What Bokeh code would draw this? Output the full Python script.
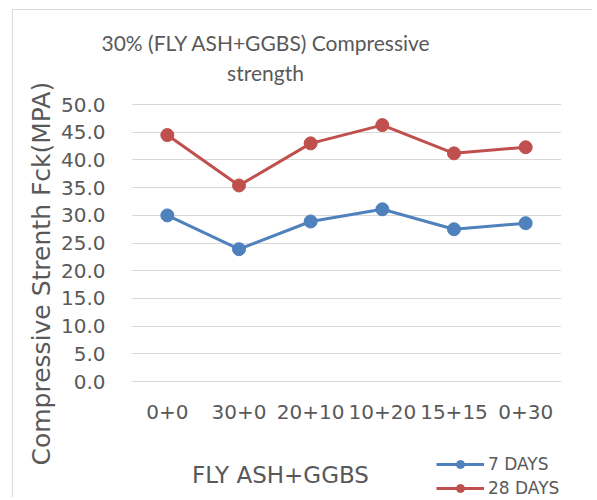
from bokeh.plotting import figure
from bokeh.models import (Legend, LegendItem, FixedTicker, NumeralTickFormatter,
                          Range1d, FactorRange, Title, Label)
from bokeh.embed import file_html
from bokeh.resources import INLINE

categories = ["0+0", "30+0", "20+10", "10+20", "15+15", "0+30"]
days7 = [30.0, 23.9, 28.9, 31.1, 27.5, 28.6]
days28 = [44.5, 35.4, 43.0, 46.3, 41.2, 42.3]
y_ticks = [0, 5, 10, 15, 20, 25, 30, 35, 40, 45, 50]

TXT = "#595959"
GRID = "#d9d9d9"
BLUE = "#4f81bd"
RED = "#c0504d"
FONT = "DejaVu Sans"

# frame reaches below the axis so legend and axis title can sit inside it
p = figure(width=580, height=488, output_backend="svg", toolbar_location=None,
           title=None,
           x_range=FactorRange(*categories, range_padding=0),
           y_range=Range1d(-21.1, 58.5),
           min_border_left=118, min_border_right=32,
           min_border_top=47, min_border_bottom=0)
p.styles = {"margin-left": "12px", "margin-top": "9px",
            "border-left": "1px solid #d9d9d9", "border-top": "1px solid #d9d9d9"}
p.outline_line_color = None

p.xgrid.grid_line_color = None
p.ygrid.ticker = FixedTicker(ticks=y_ticks)
p.ygrid.grid_line_color = GRID
p.ygrid.grid_line_width = 1

p.yaxis.ticker = FixedTicker(ticks=y_ticks)
p.yaxis.formatter = NumeralTickFormatter(format="0.0")
p.xaxis.fixed_location = 0
for ax in (p.xaxis[0], p.yaxis[0]):
    ax.axis_line_color = None
    ax.major_tick_line_color = None
    ax.minor_tick_line_color = None
    ax.major_tick_out = 0
    ax.major_tick_in = 0
    ax.major_label_text_font = FONT
    ax.major_label_text_font_size = "20px"
    ax.major_label_text_color = TXT
p.yaxis.major_label_standoff = 26
p.xaxis.major_label_standoff = 23

r7l = p.line(categories, days7, line_color=BLUE, line_width=3)
r7s = p.scatter(categories, days7, size=13, fill_color=BLUE, line_color=BLUE)
r28l = p.line(categories, days28, line_color=RED, line_width=3)
r28s = p.scatter(categories, days28, size=13, fill_color=RED, line_color=RED)

# chart title: first line in the panel above, second line inside the frame
p.add_layout(Title(text="30% (FLY ASH+GGBS) Compressive", align="left", offset=-30,
                   standoff=5, text_font="Lato", text_font_size="21px",
                   text_font_style="normal", text_color=TXT), "above")
p.add_layout(Label(x=134, y=426, x_units="screen", y_units="screen", text="strength",
                   text_align="center", text_baseline="middle", text_font="Lato",
                   text_font_size="21px", text_color=TXT))

# y axis title
p.add_layout(Title(text="Compressive Strenth Fck(MPA)", align="left", offset=33,
                   standoff=4, text_font=FONT, text_font_size="25px",
                   text_font_style="normal", text_color=TXT), "left")

# x axis title
p.add_layout(Label(x=149, y=24, x_units="screen", y_units="screen", text="FLY ASH+GGBS",
                   text_align="center", text_baseline="middle", text_font=FONT,
                   text_font_size="23px", text_color=TXT))

legend = Legend(items=[LegendItem(label="7 DAYS", renderers=[r7l, r7s]),
                       LegendItem(label="28 DAYS", renderers=[r28l, r28s])],
                location=(305, 0), orientation="vertical",
                padding=0, margin=0, spacing=4,
                glyph_width=48, glyph_height=20, label_standoff=4,
                label_text_font=FONT, label_text_font_size="17px",
                label_text_color=TXT,
                background_fill_alpha=0, border_line_color=None)
p.add_layout(legend, "center")

open("out.html", "w").write(file_html(p, INLINE))
